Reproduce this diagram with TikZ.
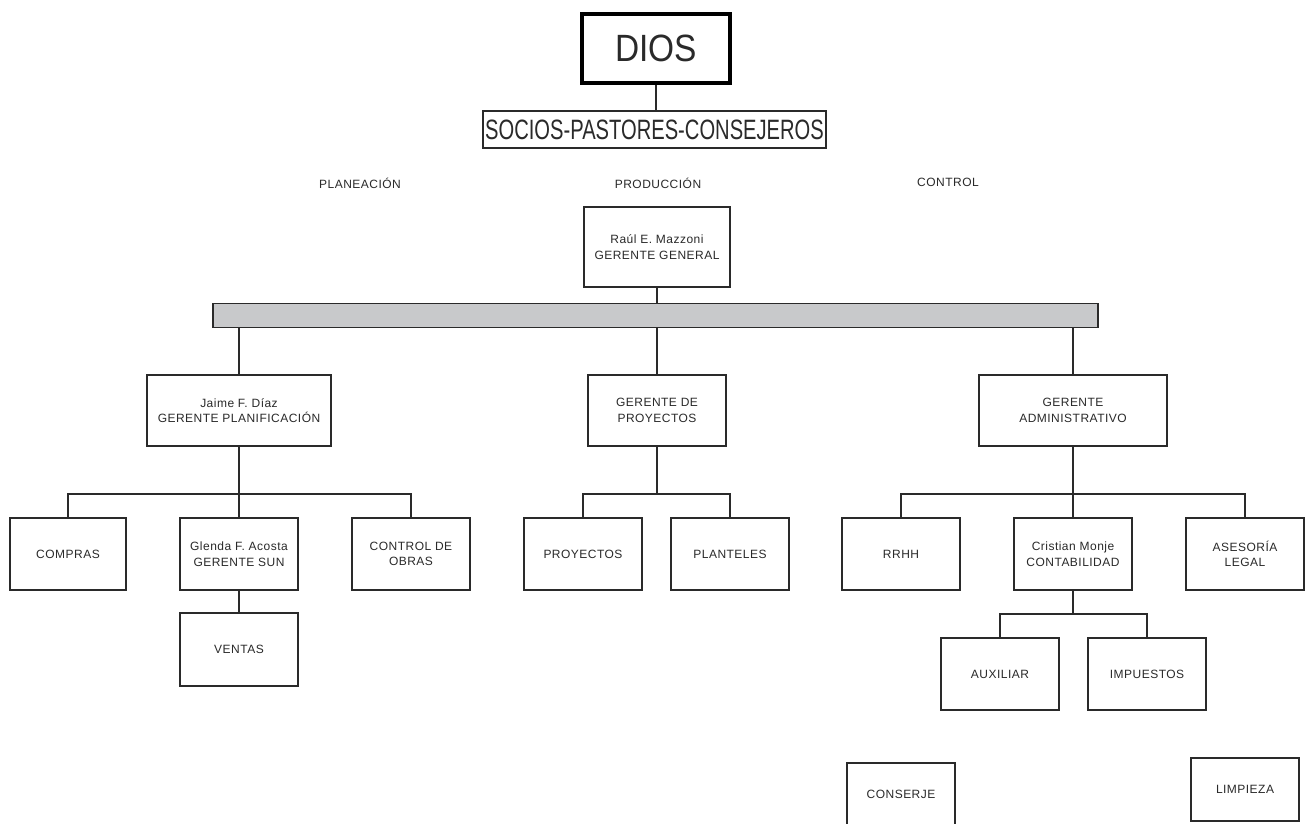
\documentclass[tikz,border=0pt]{standalone}
\usepackage{fontspec}
\setmainfont{Liberation Sans}
\newfontfamily\boxfont[LetterSpace=4]{Liberation Sans}
\definecolor{barcol}{HTML}{C8C9CB}
\definecolor{ink}{HTML}{2A2A2A}
\newcommand\bx[6]{\node[box, minimum width={#4-#2}, minimum height={#5-#3}] (#1) at ({(#2+#4)/2},{(#3+#5)/2}) {#6};}
\begin{document}
\begin{tikzpicture}[x=1pt,y=-1pt,
  box/.style={draw=ink, line width=1.3pt, inner sep=0pt, align=center, text=ink,
    font=\boxfont\fontsize{12}{15.5}\selectfont},
  lbl/.style={inner sep=0pt, text=ink, font=\boxfont\fontsize{12}{15}\selectfont},
  conn/.style={draw=ink, line width=1.3pt}]
\clip (0,0) rectangle (1305,823);
\fill[white] (0,0) rectangle (1305,823);

% top
\node[draw=black, line width=3.5pt, inner sep=0pt, minimum width=148, minimum height=69,
  font=\fontsize{38}{42}\selectfont, text=ink] (dios) at (656,48.5) {\scalebox{0.88}[1]{DIOS}};
\node[draw=ink, line width=1.3pt, inner sep=0pt, minimum width=343, minimum height=37, text=ink] (socios) at (654.5,129.5)
  {\scalebox{0.72}[1]{\fontsize{28}{30}\selectfont SOCIOS-PASTORES-CONSEJEROS}};

% labels
\node[lbl] (planea) at (360,183) {PLANEACIÓN};
\node[lbl] (produc) at (658,183) {PRODUCCIÓN};
\node[lbl] (control) at (948,182) {CONTROL};

% boxes
\bx{gg}{584}{207}{730}{287}{Raúl E. Mazzoni\\GERENTE GENERAL}
\node[draw=ink, line width=1.3pt, fill=barcol, inner sep=0pt, minimum width=885, minimum height=24] (bar) at (655.5,315.5) {};
\bx{jaime}{147}{375}{331}{446}{Jaime F. Díaz\\GERENTE PLANIFICACIÓN}
\bx{gp}{588}{375}{726}{446}{GERENTE DE\\PROYECTOS}
\bx{ga}{979}{375}{1167}{446}{GERENTE\\ADMINISTRATIVO}
\bx{compras}{10}{518}{126}{590}{COMPRAS}
\bx{glenda}{180}{518}{298}{590}{Glenda F. Acosta\\GERENTE SUN}
\bx{obras}{352}{518}{470}{590}{CONTROL DE\\OBRAS}
\bx{ventas}{180}{613}{298}{686}{VENTAS}
\bx{proy}{524}{518}{642}{590}{PROYECTOS}
\bx{plant}{671}{518}{789}{590}{PLANTELES}
\bx{rrhh}{842}{518}{960}{590}{RRHH}
\bx{cont}{1014}{518}{1132}{590}{Cristian Monje\\CONTABILIDAD}
\bx{ases}{1186}{518}{1304}{590}{ASESORÍA\\LEGAL}
\bx{aux}{941}{638}{1059}{710}{AUXILIAR}
\bx{imp}{1088}{638}{1206}{710}{IMPUESTOS}
\bx{conserje}{847}{763}{955}{826}{CONSERJE}
\bx{limpieza}{1191}{758}{1299}{821}{LIMPIEZA}

% bus coordinates
\coordinate (bj) at (239,494);
\coordinate (bp) at (657,494);
\coordinate (ba) at (1073,494);
\coordinate (bc) at (1073,614);

% connectors
\draw[conn] (dios.south) -- (dios.south |- socios.north);
\draw[conn] (gg.south) -- (gg.south |- bar.north);
\draw[conn] (bar.south -| jaime.north) -- (jaime.north);
\draw[conn] (bar.south -| gp.north) -- (gp.north);
\draw[conn] (bar.south -| ga.north) -- (ga.north);
\draw[conn] (jaime.south) -- (glenda.north);
\draw[conn] (compras.north) |- (bj) -| (obras.north);
\draw[conn] (glenda.south) -- (ventas.north);
\draw[conn] (gp.south) -- (bp);
\draw[conn] (proy.north) |- (bp) -| (plant.north);
\draw[conn] (ga.south) -- (ga.south |- cont.north);
\draw[conn] (rrhh.north) |- (ba) -| (ases.north);
\draw[conn] (cont.south) -- (bc);
\draw[conn] (aux.north) |- (bc) -| (imp.north);
\end{tikzpicture}
\end{document}
